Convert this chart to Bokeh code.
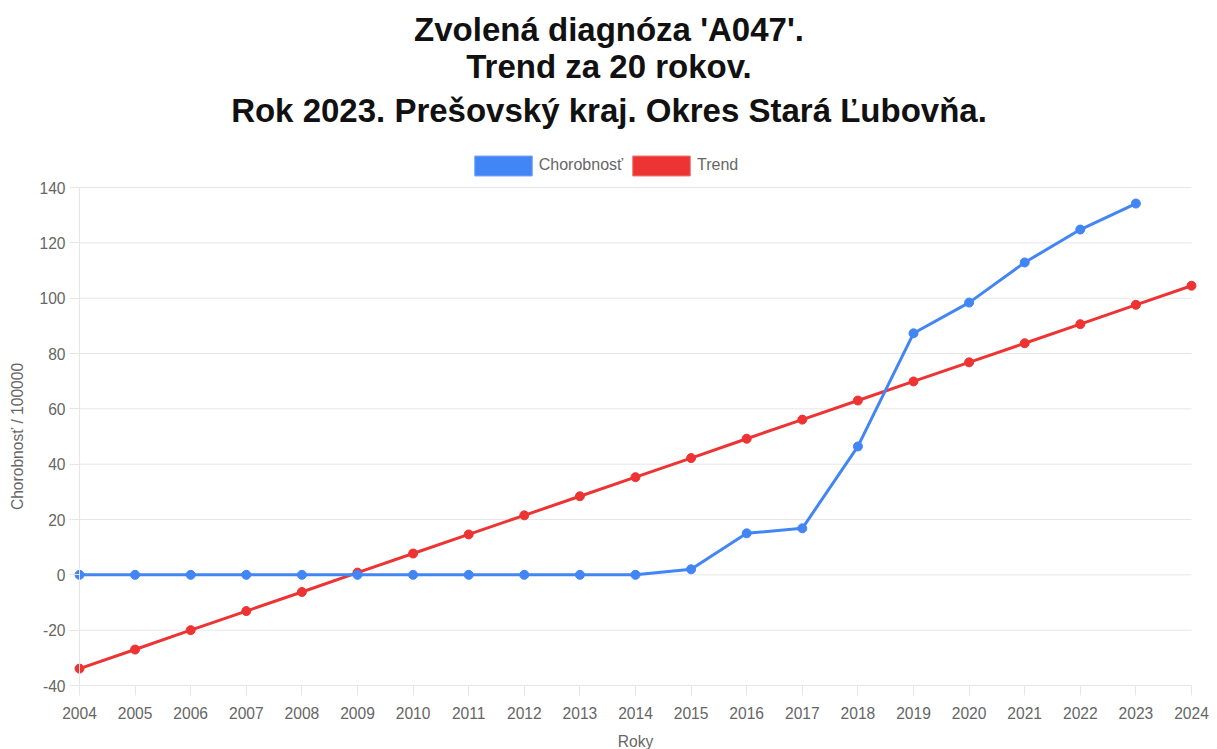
from bokeh.plotting import figure
from bokeh.models import (Range1d, FixedTicker, Legend, LegendItem, ColumnDataSource, Label)
from bokeh.embed import file_html
from bokeh.resources import INLINE

# ---- data ----
years_trend = list(range(2004, 2025))
years_obs = list(range(2004, 2024))
chorobnost = [0, 0, 0, 0, 0, 0, 0, 0, 0, 0, 0, 2.0, 15.0, 16.8, 46.4, 87.3, 98.4, 112.9, 124.8, 134.2]
trend = [-33.9, -27.0, -20.0, -13.1, -6.2, 0.8, 7.7, 14.6, 21.5, 28.4, 35.3, 42.2, 49.2, 56.1,
         63.0, 69.9, 76.8, 83.7, 90.6, 97.6, 104.5]
y_ticks = [-40, -20, 0, 20, 40, 60, 80, 100, 120, 140]
y_tick_labels = ["-40", "-20", "0", "20", "40", "60", "80", "100", "120", "140"]
x_ticks = list(range(2004, 2025))
series_names = ["Chorobnosť", "Trend"]
title_lines = ["Zvolená diagnóza 'A047'.", "Trend za 20 rokov.", "Rok 2023. Prešovský kraj. Okres Stará Ľubovňa."]
x_label = "Roky"
y_label = "Chorobnosť / 100000"

# ---- style / layout ----
BLUE = "#4285F4"
RED = "#EE3333"
GRAY = "#666666"
GRID = "#e6e6e6"
FONT = "Liberation Sans"
SMALL = "15.6px"

W, H = 1217, 749
PLOT_L, PLOT_R, PLOT_T, PLOT_B = 79, 1191, 187, 685   # pixel box of the value area
PX_X = (PLOT_R - PLOT_L) / (x_ticks[-1] - x_ticks[0])
PX_Y = (PLOT_B - PLOT_T) / (y_ticks[-1] - y_ticks[0])

x_start = x_ticks[0] - PLOT_L / PX_X
x_end = x_ticks[-1] + (W - PLOT_R) / PX_X
y_end = y_ticks[-1] + PLOT_T / PX_Y
y_start = y_ticks[0] - (H - PLOT_B) / PX_Y


def px_x(px):
    return x_start + px / PX_X


def px_y(py):
    return y_end - py / PX_Y


p = figure(width=W, height=H, output_backend="svg", toolbar_location=None,
           x_range=Range1d(x_start, x_end), y_range=Range1d(y_start, y_end),
           min_border=0, min_border_left=0, min_border_right=0, min_border_top=0, min_border_bottom=0)
p.outline_line_color = None
p.xgrid.visible = False
p.ygrid.visible = False

# horizontal grid lines between first and last year
p.segment(x0=[x_ticks[0]] * len(y_ticks), x1=[x_ticks[-1]] * len(y_ticks), y0=y_ticks, y1=y_ticks,
          line_color=GRID, line_width=1)

src_t = ColumnDataSource(dict(x=years_trend, y=trend))
src_c = ColumnDataSource(dict(x=years_obs, y=chorobnost))
p.line("x", "y", source=src_t, line_color=RED, line_width=3)
p.scatter("x", "y", source=src_t, size=9, color=RED)
p.line("x", "y", source=src_c, line_color=BLUE, line_width=3)
p.scatter("x", "y", source=src_c, size=9, color=BLUE)

# legend boxes (renderers with no drawable data, only used for the legend)
nan = float("nan")
dummy = ColumnDataSource(dict(left=[nan], right=[nan], top=[nan], bottom=[nan]))
q1 = p.quad(left="left", right="right", top="top", bottom="bottom", source=dummy,
            fill_color=BLUE, line_color="#7aa9f7", line_width=1)
q2 = p.quad(left="left", right="right", top="top", bottom="bottom", source=dummy,
            fill_color=RED, line_color="#f27a7a", line_width=1)
# area glyphs are drawn with a 10% inset inside the legend glyph area
legend = Legend(items=[LegendItem(label=series_names[0], renderers=[q1]),
                       LegendItem(label=series_names[1], renderers=[q2])],
                orientation="horizontal", location=(466.75, H - 175 - 2.5),
                glyph_width=72, glyph_height=25, label_standoff=0, spacing=2,
                padding=0, margin=0, border_line_color=None, background_fill_alpha=0,
                label_text_font=FONT, label_text_font_size="16px", label_text_color=GRAY,
                label_height=25)
p.add_layout(legend, "center")

# title lines
baselines = [28.5, 66, 110]
for line, b in zip(title_lines, baselines):
    p.add_layout(Label(x=px_x(W / 2), y=px_y(b), text=line, text_align="center",
                       text_baseline="alphabetic", text_font=FONT, text_font_size="33px",
                       text_font_style="bold", text_color="#111111"))

# axes placed at the edges of the value area
p.xaxis.ticker = FixedTicker(ticks=x_ticks)
p.yaxis.ticker = FixedTicker(ticks=y_ticks)
p.yaxis.major_label_overrides = dict(zip(y_ticks, y_tick_labels))
p.xaxis.fixed_location = y_ticks[0]
p.yaxis.fixed_location = x_ticks[0]
p.xaxis.bounds = (x_ticks[0], x_ticks[-1])
p.yaxis.bounds = (y_ticks[0], y_ticks[-1])
for ax in (p.xaxis[0], p.yaxis[0]):
    ax.axis_line_color = GRID
    ax.major_tick_line_color = GRID
    ax.major_tick_in = 0
    ax.major_tick_out = 10
    ax.minor_tick_line_color = None
    ax.major_label_text_font = FONT
    ax.major_label_text_font_size = SMALL
    ax.major_label_text_color = GRAY
    ax.axis_label_text_font = FONT
    ax.axis_label_text_font_size = SMALL
    ax.axis_label_text_color = GRAY
    ax.axis_label_text_font_style = "normal"
p.xaxis.axis_label = x_label
p.yaxis.axis_label = y_label
p.xaxis.major_label_standoff = 11
p.yaxis.major_label_standoff = 4
p.xaxis.axis_label_standoff = 11
p.yaxis.axis_label_standoff = 10

open("out.html", "w").write(file_html(p, INLINE))
